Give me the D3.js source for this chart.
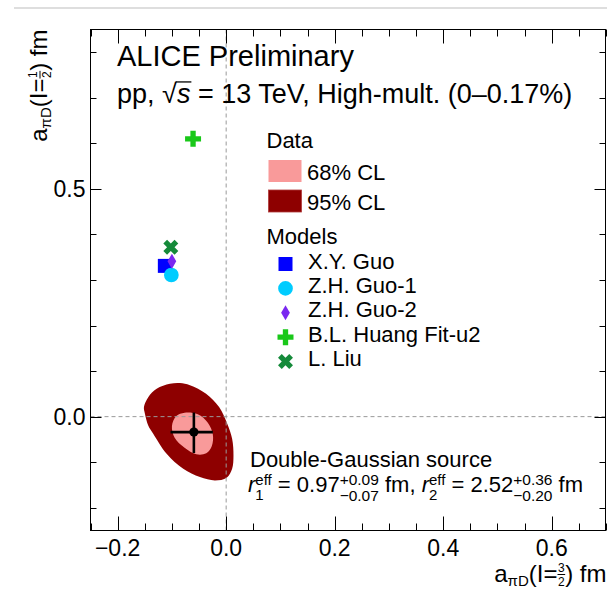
<!DOCTYPE html>
<html>
<head>
<meta charset="utf-8">
<script src="https://cdn.jsdelivr.net/npm/d3@7"></script>
<style>
  html, body { margin: 0; padding: 0; background: #fff; }
  svg { display: block; }
  text { font-family: "Liberation Sans", Arial, Helvetica, sans-serif; fill: #000; white-space: pre; }
</style>
</head>
<body>
<svg id="chart" width="607" height="589"></svg>
<script>
// ---- axis ticks ----
const xMajorTicks = [-0.2, 0.0, 0.2, 0.4, 0.6];
const xTickLabels = ["\u22120.2", "0.0", "0.2", "0.4", "0.6"];
const yMajorTicks = [0.0, 0.5];
const yTickLabels = ["0.0", "0.5"];
const xMinorStep = 0.05;
const yMinorStep = 0.1;

// ---- model predictions: a(I=3/2), a(I=1/2) in fm ----
const modelNames = ["X.Y. Guo", "Z.H. Guo-1", "Z.H. Guo-2", "B.L. Huang Fit-u2", "L. Liu"];
const modelA32 = [-0.113, -0.101, -0.100, -0.061, -0.102];
const modelA12 = [0.331, 0.311, 0.341, 0.610, 0.372];

// ---- measurement ----
const measA32 = -0.0595;
const measA12 = -0.034;
const measErrA32 = [0.043, 0.035];   // [minus, plus]
const measErrA12 = [0.046, 0.043];   // [minus, plus]

// ---- confidence-level contours (a32, a12) ----
const cl95Contour = [
  [-0.1036, 0.0722], [-0.1281, 0.0613], [-0.1436, 0.0428], [-0.1515, 0.0209],
  [-0.1497, 0.0064], [-0.1436, -0.0193], [-0.1344, -0.0375], [-0.1097, -0.0815],
  [-0.0791, -0.1144], [-0.0483, -0.1328], [-0.0206, -0.1401], [0.0009, -0.1341],
  [0.0110, -0.1144], [0.0135, -0.0852], [0.0110, -0.0485], [0.0020, -0.0156],
  [-0.0130, 0.0209], [-0.0370, 0.0503], [-0.0667, 0.0690], [-0.0851, 0.0738]
];
const cl68Contour = [
  [-0.0766, 0.0088], [-0.0522, 0.0053], [-0.0338, -0.0132], [-0.0246, -0.0387],
  [-0.0264, -0.0644], [-0.0367, -0.0805], [-0.0551, -0.0827], [-0.0766, -0.0682],
  [-0.0949, -0.0462], [-0.0999, -0.0204], [-0.0918, 0.0015]
];
const clLabels = ["68% CL", "95% CL"];

// ---- styles ----
const clColors = ["#f99a9a", "#8e0000"];
const modelStyles = [
  { symbol: d3.symbolSquare,  size: 196, color: "#0000ff", rotate: 0 },
  { symbol: d3.symbolCircle,  size: 170, color: "#00ccff", rotate: 0 },
  { symbol: d3.symbolDiamond, size: 66,  color: "#7a28f0", rotate: 0 },
  { symbol: d3.symbolCross,   size: 142, color: "#19c819", rotate: 0 },
  { symbol: d3.symbolCross,   size: 140, color: "#158a3a", rotate: 45 }
];
const drawOrder = [0, 1, 2, 3, 4];

const svg = d3.select("#chart");
const frame = { left: 90.5, right: 605.5, top: 29.5, bottom: 530.5 };

const x = d3.scaleLinear().domain([-0.25, 0.7]).range([frame.left, frame.right + 0.5]);
const y = d3.scaleLinear().domain([-0.25, 0.85]).range([frame.bottom, frame.top]);

// thin rule across the top of the page
svg.append("line").attr("x1", 14).attr("x2", 607).attr("y1", 8).attr("y2", 8)
  .attr("stroke", "#dedede").attr("stroke-width", 2);

// ---- helper for text with sub/superscripts, fractions ----
function rich(g, x0, y0, parts) {
  let cx = x0;
  parts.forEach(p => {
    if (p.stack) {
      let w = 0;
      p.stack.forEach(s => {
        const t = g.append("text").attr("x", cx).attr("y", y0 + s.dy)
          .style("font-size", s.size + "px").text(s.t);
        w = Math.max(w, t.node().getComputedTextLength());
      });
      cx += w;
    } else if (p.frac) {
      const sz = p.size;
      const tn = g.append("text").attr("y", y0 - p.axis - 3)
        .style("font-size", sz + "px").attr("text-anchor", "middle").text(p.frac[0]);
      const td = g.append("text").attr("y", y0 - p.axis + 2.4 + sz * 0.72)
        .style("font-size", sz + "px").attr("text-anchor", "middle").text(p.frac[1]);
      const w = Math.max(tn.node().getComputedTextLength(), td.node().getComputedTextLength()) + 1;
      tn.attr("x", cx + w / 2);
      td.attr("x", cx + w / 2);
      g.append("line").attr("x1", cx).attr("x2", cx + w)
        .attr("y1", y0 - p.axis).attr("y2", y0 - p.axis)
        .attr("stroke", "#000").attr("stroke-width", 1);
      cx += w;
    } else if (p.sqrt) {
      const sz = p.size;
      const r = g.append("text").attr("x", cx).attr("y", y0).style("font-size", sz + "px").text("\u221A");
      const rw = r.node().getComputedTextLength();
      const s = g.append("text").attr("x", cx + rw).attr("y", y0).style("font-size", sz + "px")
        .style("font-style", "italic").text(p.sqrt);
      const sw = s.node().getComputedTextLength();
      g.append("line").attr("x1", cx + rw - 1).attr("x2", cx + rw + sw + 1)
        .attr("y1", y0 - sz * 0.78).attr("y2", y0 - sz * 0.78)
        .attr("stroke", "#000").attr("stroke-width", 1.3);
      cx += rw + sw;
    } else {
      const t = g.append("text").attr("x", cx).attr("y", y0 + (p.dy || 0))
        .style("font-size", p.size + "px")
        .style("font-style", p.italic ? "italic" : null).text(p.t);
      cx += t.node().getComputedTextLength();
    }
  });
  return cx - x0;
}

// ---- confidence contours ----
const contourLine = d3.line().x(d => x(d[0])).y(d => y(d[1])).curve(d3.curveCatmullRomClosed.alpha(0.5));
svg.append("path").attr("d", contourLine(cl95Contour)).attr("fill", clColors[1]);
svg.append("path").attr("d", contourLine(cl68Contour)).attr("fill", clColors[0]);

// ---- zero reference lines ----
svg.append("line").attr("x1", x(0)).attr("x2", x(0)).attr("y1", frame.top).attr("y2", frame.bottom)
  .attr("stroke", "#9a9a9a").attr("stroke-width", 1).attr("stroke-dasharray", "4,3");
svg.append("line").attr("x1", frame.left).attr("x2", frame.right).attr("y1", y(0)).attr("y2", y(0))
  .attr("stroke", "#9a9a9a").attr("stroke-width", 1).attr("stroke-dasharray", "4,3");

// ---- measured point with error bars ----
const meas = svg.append("g");
meas.append("line").attr("x1", x(measA32 - measErrA32[0])).attr("x2", x(measA32 + measErrA32[1]))
  .attr("y1", y(measA12)).attr("y2", y(measA12)).attr("stroke", "#000").attr("stroke-width", 2.6);
meas.append("line").attr("x1", x(measA32)).attr("x2", x(measA32))
  .attr("y1", y(measA12 - measErrA12[0])).attr("y2", y(measA12 + measErrA12[1]))
  .attr("stroke", "#000").attr("stroke-width", 2.6);
meas.append("circle").attr("cx", x(measA32)).attr("cy", y(measA12)).attr("r", 4.6).attr("fill", "#000");

// ---- model markers ----
function marker(g, i, cx, cy) {
  const st = modelStyles[i];
  g.append("path")
    .attr("d", d3.symbol().type(st.symbol).size(st.size)())
    .attr("transform", `translate(${cx},${cy}) rotate(${st.rotate})`)
    .attr("fill", st.color);
}
drawOrder.forEach(i => marker(svg, i, x(modelA32[i]), y(modelA12[i])));

// ---- frame and ticks ----
svg.append("rect").attr("x", frame.left).attr("y", frame.top)
  .attr("width", frame.right - frame.left).attr("height", frame.bottom - frame.top)
  .attr("fill", "none").attr("stroke", "#000").attr("stroke-width", 1);

const xMinor = d3.range(-0.25, 0.7 + 1e-9, xMinorStep)
  .filter(v => !xMajorTicks.some(m => Math.abs(m - v) < 1e-6));
const yMinor = d3.range(-0.2, 0.85 + 1e-9, yMinorStep)
  .filter(v => !yMajorTicks.some(m => Math.abs(m - v) < 1e-6));

const ticks = svg.append("g").attr("stroke", "#000").attr("stroke-width", 1);
function xTick(v, len) {
  const px = Math.round(x(v)) + 0.5;
  ticks.append("line").attr("x1", px).attr("x2", px).attr("y1", frame.bottom).attr("y2", frame.bottom - len);
  ticks.append("line").attr("x1", px).attr("x2", px).attr("y1", frame.top).attr("y2", frame.top + len);
}
function yTick(v, len) {
  const py = Math.round(y(v)) + 0.5;
  ticks.append("line").attr("x1", frame.left).attr("x2", frame.left + len).attr("y1", py).attr("y2", py);
  ticks.append("line").attr("x1", frame.right).attr("x2", frame.right - len).attr("y1", py).attr("y2", py);
}
xMajorTicks.forEach(v => xTick(v, 14));
xMinor.forEach(v => xTick(v, 7));
yMajorTicks.forEach(v => yTick(v, 11));
yMinor.forEach(v => yTick(v, 6));

// tick labels
svg.append("g").selectAll("text").data(xMajorTicks).join("text")
  .attr("x", d => x(d)).attr("y", frame.bottom + 25)
  .attr("text-anchor", "middle").style("font-size", "23px")
  .text((d, i) => xTickLabels[i]);
svg.append("g").selectAll("text").data(yMajorTicks).join("text")
  .attr("x", frame.left - 5).attr("y", d => y(d) + 8.2)
  .attr("text-anchor", "end").style("font-size", "23px")
  .text((d, i) => yTickLabels[i]);

// ---- axis titles ----
function axisTitleParts(num, den) {
  return [
    { t: "a", size: 24 },
    { t: "\u03C0D", size: 15, dy: 4 },
    { t: "(I=", size: 24 },
    { frac: [num, den], size: 12, axis: 7 },
    { t: ") fm", size: 24 }
  ];
}
const xTitle = svg.append("g");
const xtw = rich(xTitle, 0, 0, axisTitleParts("3", "2"));
xTitle.attr("transform", `translate(${frame.right - xtw + 1},581.5)`);

const yTitle = svg.append("g");
const ytw = rich(yTitle, 0, 0, axisTitleParts("1", "2"));
yTitle.attr("transform", `translate(47,${frame.top + ytw}) rotate(-90)`);

// ---- header ----
svg.append("text").attr("x", 117).attr("y", 66).style("font-size", "29px").text("ALICE Preliminary");
const hdr = svg.append("g");
rich(hdr, 117, 103, [
  { t: "pp, ", size: 27 },
  { sqrt: "s", size: 27 },
  { t: " = 13 TeV, High-mult. (0\u20130.17%)", size: 27 }
]);

// ---- legend ----
const leg = svg.append("g");
leg.append("text").attr("x", 266.5).attr("y", 148).style("font-size", "22px").text("Data");
[0, 1].forEach(k => {
  const top = 160 + k * 30;
  leg.append("rect").attr("x", 268.5).attr("y", top).attr("width", 33).attr("height", 22)
    .attr("fill", clColors[k]).attr("stroke", k === 1 ? "#b03a3a" : "none").attr("stroke-width", 0.8);
  leg.append("text").attr("x", 307).attr("y", top + 19.5).style("font-size", "22px").text(clLabels[k]);
});
leg.append("text").attr("x", 266.5).attr("y", 244).style("font-size", "22px").text("Models");
modelNames.forEach((name, i) => {
  const cy = 264 + i * 24.4;
  marker(leg, i, 285.5, cy);
  leg.append("text").attr("x", 308).attr("y", cy + 4.6).style("font-size", "22px").text(name);
});

// ---- source annotation ----
svg.append("text").attr("x", 250).attr("y", 466.5).style("font-size", "22px").text("Double-Gaussian source");
const ann = svg.append("g");
rich(ann, 248, 492, [
  { t: "r", size: 22, italic: true },
  { stack: [{ t: "eff", size: 15, dy: -7.5 }, { t: "1", size: 15, dy: 8 }] },
  { t: " = 0.97", size: 22 },
  { stack: [{ t: "+0.09", size: 15.5, dy: -7.5 }, { t: "\u22120.07", size: 15.5, dy: 9 }] },
  { t: " fm, ", size: 22 },
  { t: "r", size: 22, italic: true },
  { stack: [{ t: "eff", size: 15, dy: -7.5 }, { t: "2", size: 15, dy: 8 }] },
  { t: " = 2.52", size: 22 },
  { stack: [{ t: "+0.36", size: 15.5, dy: -7.5 }, { t: "\u22120.20", size: 15.5, dy: 9 }] },
  { t: " fm", size: 22 }
]);
</script>
</body>
</html>
